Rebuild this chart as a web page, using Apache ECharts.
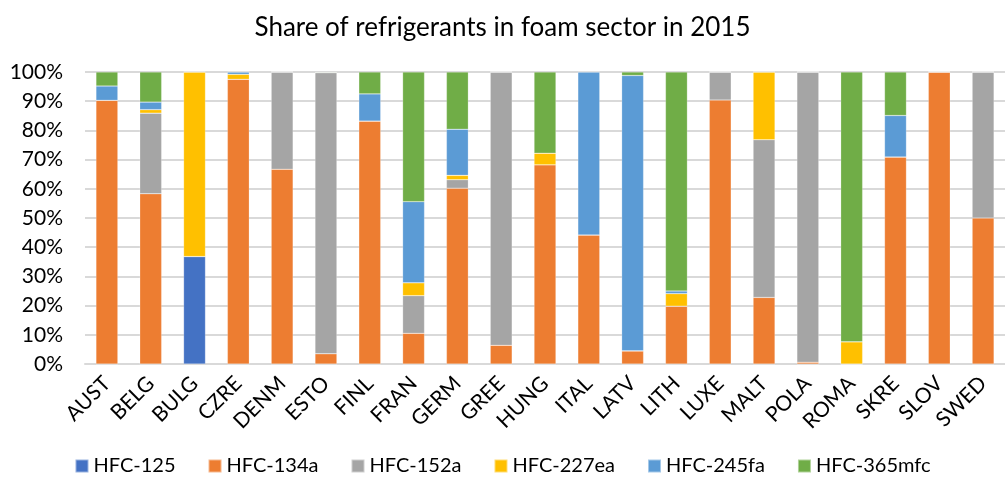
<!DOCTYPE html>
<html>
<head>
<meta charset="utf-8">
<script src="https://cdn.jsdelivr.net/npm/echarts@6/dist/echarts.min.js"></script>
<style>
html, body { margin: 0; padding: 0; background: #fff; }
#chart { width: 1005px; height: 487px; }
</style>
</head>
<body>
<div id="chart"></div>
<script>
const countries = ['AUST', 'BELG', 'BULG', 'CZRE', 'DENM', 'ESTO', 'FINL', 'FRAN', 'GERM', 'GREE', 'HUNG',
  'ITAL', 'LATV', 'LITH', 'LUXE', 'MALT', 'POLA', 'ROMA', 'SKRE', 'SLOV', 'SWED']

const hfc125 = [0, 0, 36.8, 0, 0, 0, 0, 0, 0, 0, 0, 0, 0, 0, 0, 0, 0, 0, 0, 0, 0]
const hfc134a = [90.3, 58.3, 0, 97.5, 66.7, 3.5, 83.2, 10.5, 60.2, 6.4, 68.2, 44.2, 4.5, 19.8, 90.4, 22.8, 0.6, 0, 70.9, 100, 50]
const hfc152a = [0, 27.6, 0, 0, 33.3, 96.3, 0, 12.9, 2.9, 93.6, 0, 0, 0, 0, 9.6, 54.0, 99.4, 0, 0, 0, 50]
const hfc227ea = [0, 1.2, 63.2, 1.7, 0, 0, 0, 4.4, 1.5, 0, 4.0, 0, 0, 4.3, 0, 23.2, 0, 7.6, 0, 0, 0]
const hfc245fa = [4.9, 2.6, 0, 0.8, 0, 0, 9.3, 27.8, 15.8, 0, 0, 55.8, 94.3, 0.9, 0, 0, 0, 0, 14.2, 0, 0]
const hfc365mfc = [4.8, 10.3, 0, 0, 0, 0.2, 7.5, 44.4, 19.6, 0, 27.8, 0, 1.2, 75.0, 0, 0, 0, 92.4, 14.9, 0, 0]

const yTicks = [0, 10, 20, 30, 40, 50, 60, 70, 80, 90, 100]

const seriesDefs = [
  ['HFC-125', hfc125, '#4472C4'],
  ['HFC-134a', hfc134a, '#ED7D31'],
  ['HFC-152a', hfc152a, '#A5A5A5'],
  ['HFC-227ea', hfc227ea, '#FFC000'],
  ['HFC-245fa', hfc245fa, '#5B9BD5'],
  ['HFC-365mfc', hfc365mfc, '#70AD47'],
]

const font = 'Lato, "Open Sans", sans-serif'
const myChart = echarts.init(document.getElementById('chart'))

const option = {
  animation: false,
  title: {
    text: 'Share of refrigerants in foam sector in 2015',
    left: 'center',
    top: 10,
    textStyle: { fontFamily: font, fontSize: 26, fontWeight: 'normal', color: '#000' },
  },
  legend: {
    bottom: 6,
    left: 'center',
    itemWidth: 13,
    itemHeight: 13,
    itemGap: 32,
    icon: 'rect',
    textStyle: { fontFamily: font, fontSize: 20, color: '#000' },
    data: seriesDefs.map(s => s[0]),
  },
  grid: {
    left: 85,
    top: 72,
    width: 929,
    height: 292,
  },
  xAxis: {
    type: 'category',
    data: countries,
    axisTick: { show: false },
    axisLine: { lineStyle: { color: '#D9D9D9', width: 2 } },
    axisLabel: {
      rotate: 45,
      interval: 0,
      margin: 16,
      fontFamily: font,
      fontSize: 21,
      color: '#000',
    },
  },
  yAxis: {
    type: 'value',
    min: 0,
    max: 100,
    interval: 10,
    axisLine: { show: false },
    axisTick: { show: false },
    splitLine: { lineStyle: { color: '#D9D9D9', width: 2 } },
    axisLabel: {
      fontFamily: font,
      fontSize: 21,
      color: '#000',
      margin: 22,
      formatter: v => yTicks.includes(v) ? v + '%' : '',
    },
  },
  series: seriesDefs.map(([name, data, color]) => ({
    name,
    type: 'bar',
    stack: 'total',
    barWidth: '50%',
    data,
    itemStyle: { color, borderColor: 'rgba(255,255,255,0.45)', borderWidth: 0.5 },
  })),
}

myChart.setOption(option)
</script>
</body>
</html>
